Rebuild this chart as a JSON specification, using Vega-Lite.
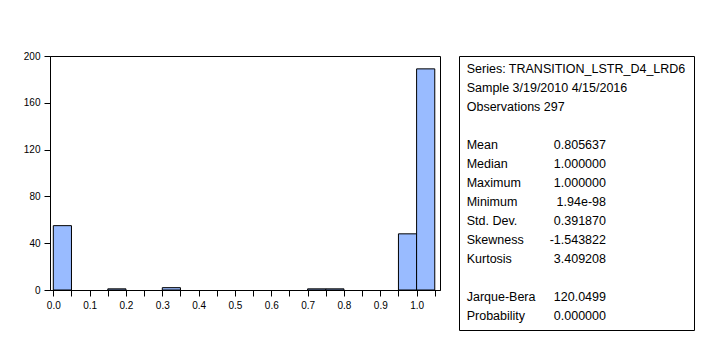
{
  "$schema": "https://vega.github.io/schema/vega-lite/v6.json",
  "background": "white",
  "padding": {"left": 22, "top": 50, "right": 0, "bottom": 0},
  "spacing": 17,
  "config": {
    "view": {"stroke": "black", "strokeWidth": 1},
    "font": "Liberation Sans",
    "axis": {"grid": false, "domainColor": "black", "tickColor": "black", "labelColor": "black", "labelFont": "Liberation Sans", "labelFontSize": 10, "tickSize": 6, "labelPadding": 4, "title": null}
  },
  "hconcat": [
    {
      "width": 390,
      "height": 234,
      "data": {"values": [
        {"bin_start": 0.0, "bin_end": 0.05, "count": 55},
        {"bin_start": 0.15, "bin_end": 0.2, "count": 1},
        {"bin_start": 0.3, "bin_end": 0.35, "count": 2},
        {"bin_start": 0.7, "bin_end": 0.75, "count": 1},
        {"bin_start": 0.75, "bin_end": 0.8, "count": 1},
        {"bin_start": 0.95, "bin_end": 1.0, "count": 48},
        {"bin_start": 1.0, "bin_end": 1.05, "count": 189}
      ]},
      "mark": {"type": "rect", "fill": "#99BBFF", "stroke": "black", "strokeWidth": 1},
      "encoding": {
        "x": {"field": "bin_start", "type": "quantitative",
              "scale": {"domain": [-0.0091, 1.0644], "nice": false, "zero": false},
              "axis": {"values": [0, 0.05, 0.1, 0.15, 0.2, 0.25, 0.3, 0.35, 0.4, 0.45, 0.5, 0.55, 0.6, 0.65, 0.7, 0.75, 0.8, 0.85, 0.9, 0.95, 1.0, 1.05],
                       "labelExpr": "round(datum.value*100) % 10 == 0 ? format(datum.value, '.1f') : ''"}},
        "x2": {"field": "bin_end"},
        "y": {"field": "count", "type": "quantitative",
              "scale": {"domain": [0, 200], "nice": false},
              "axis": {"values": [0, 40, 80, 120, 160, 200]}},
        "y2": {"datum": 0}
      }
    },
    {
      "width": 235,
      "height": 274,
      "data": {"values": [
        {"line": 0, "label": "Series: TRANSITION_LSTR_D4_LRD6", "value": ""},
        {"line": 1, "label": "Sample 3/19/2010 4/15/2016", "value": ""},
        {"line": 2, "label": "Observations 297", "value": ""},
        {"line": 4, "label": "Mean", "value": "0.805637"},
        {"line": 5, "label": "Median", "value": "1.000000"},
        {"line": 6, "label": "Maximum", "value": "1.000000"},
        {"line": 7, "label": "Minimum", "value": "1.94e-98"},
        {"line": 8, "label": "Std. Dev.", "value": "0.391870"},
        {"line": 9, "label": "Skewness", "value": "-1.543822"},
        {"line": 10, "label": "Kurtosis", "value": "3.409208"},
        {"line": 12, "label": "Jarque-Bera", "value": "120.0499"},
        {"line": 13, "label": "Probability", "value": "0.000000"}
      ]},
      "layer": [
        {
          "mark": {"type": "text", "align": "left", "baseline": "middle", "font": "Liberation Sans", "fontSize": 12.5, "color": "black"},
          "encoding": {
            "x": {"datum": 0, "type": "quantitative", "scale": {"domain": [-0.0553, 1.632], "nice": false, "zero": false}, "axis": null},
            "y": {"field": "line", "type": "quantitative", "scale": {"domain": [-0.684, 13.737], "nice": false, "zero": false, "reverse": true}, "axis": null},
            "text": {"field": "label"}
          }
        },
        {
          "mark": {"type": "text", "align": "right", "baseline": "middle", "font": "Liberation Sans", "fontSize": 12.5, "color": "black"},
          "encoding": {
            "x": {"datum": 1, "type": "quantitative"},
            "y": {"field": "line", "type": "quantitative"},
            "text": {"field": "value"}
          }
        }
      ]
    }
  ]
}
